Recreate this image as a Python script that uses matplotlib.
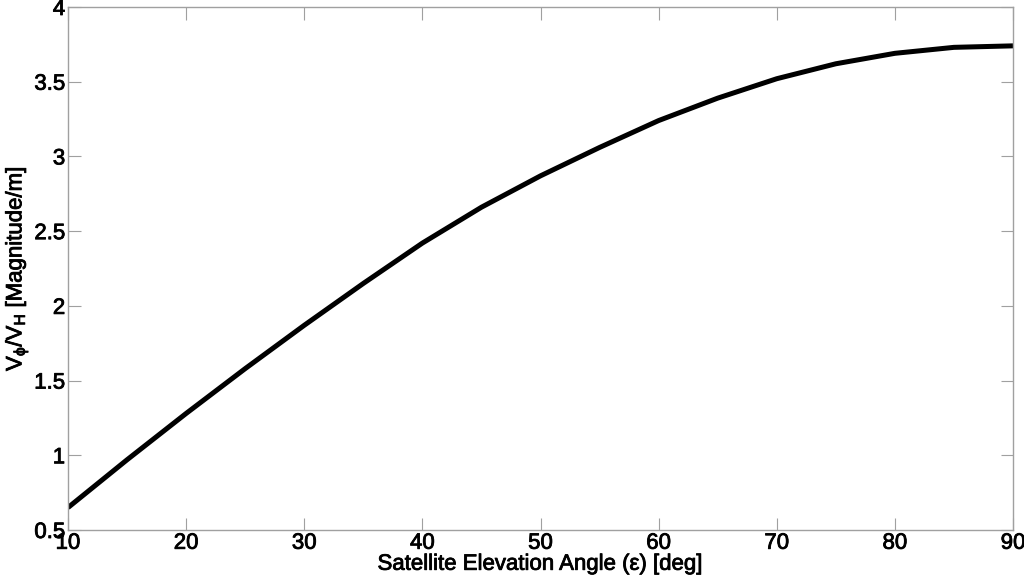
import matplotlib
matplotlib.use("Agg")
import matplotlib.pyplot as plt
import matplotlib.patheffects as pe

elevation_deg = [10, 15, 20, 25, 30, 35, 40, 45, 50, 55, 60, 65, 70, 75, 80, 85, 90]
ratio = [0.65, 0.97, 1.28, 1.58, 1.87, 2.15, 2.42, 2.66, 2.87, 3.06, 3.24, 3.39, 3.52, 3.62, 3.69, 3.73, 3.74]
xticks = [10, 20, 30, 40, 50, 60, 70, 80, 90]
yticks = [0.5, 1, 1.5, 2, 2.5, 3, 3.5, 4]
ytick_labels = ["0.5", "1", "1.5", "2", "2.5", "3", "3.5", "4"]

plt.rcParams['font.family'] = ['Liberation Sans', 'DejaVu Sans']
plt.rcParams['mathtext.fontset'] = 'custom'
plt.rcParams['mathtext.rm'] = 'Liberation Sans'
plt.rcParams['mathtext.it'] = 'Liberation Sans'

heavy = [pe.withStroke(linewidth=0.6, foreground='black')]

fig = plt.figure(figsize=(10.24, 5.77), dpi=100)
ax = fig.add_axes([68/1024, 47/577, (1013-68)/1024, (530-7)/577])
ax.plot(elevation_deg, ratio, color='black', linewidth=3.6, solid_capstyle='butt')
ax.set_xlim(10, 90)
ax.set_ylim(0.5, 4)
ax.set_xticks(xticks)
ax.set_yticks(yticks)
ax.set_yticklabels(ytick_labels)
grey = '#a0a0a0'
for s in ax.spines.values():
    s.set_color(grey)
    s.set_linewidth(1.0)
ax.tick_params(direction='in', length=9, width=0.8, color=grey, labelsize=16,
               top=True, right=True, labelcolor='black', pad=2)
for lab in ax.get_xticklabels() + ax.get_yticklabels():
    lab.set_path_effects(heavy)
xl = ax.set_xlabel('Satellite Elevation Angle (ε) [deg]', fontsize=16, labelpad=0)
yl = ax.set_ylabel(r'V$_\phi$/V$_\mathrm{H}$ [Magnitude/m]', fontsize=16, labelpad=3)
xl.set_path_effects(heavy)
yl.set_path_effects(heavy)
fig.savefig('out.png', dpi=100)
